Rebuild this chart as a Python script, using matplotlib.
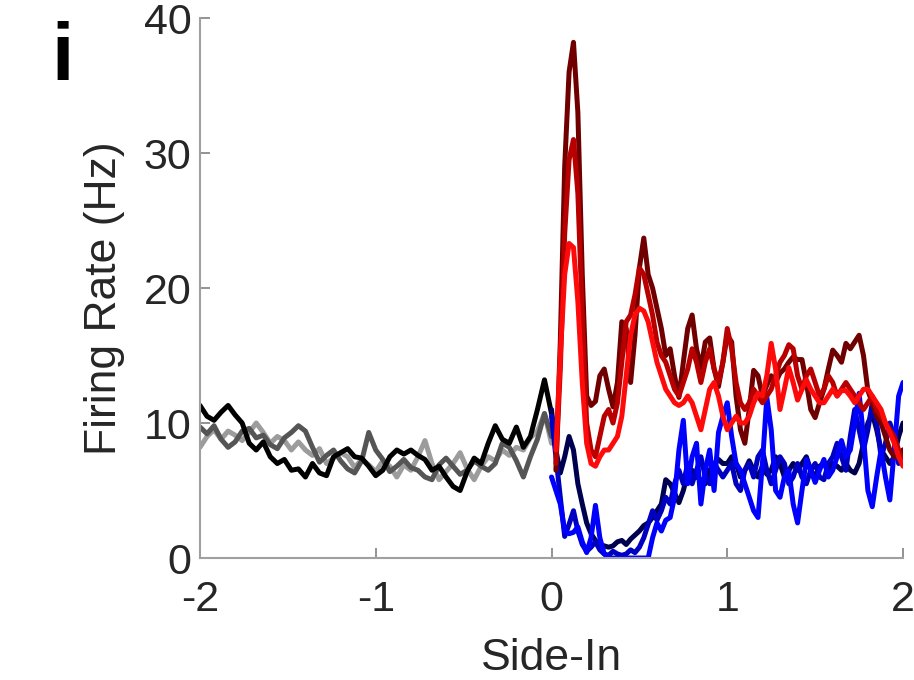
import numpy as np
import matplotlib
matplotlib.use("Agg")
import matplotlib.pyplot as plt

plt.rcParams['font.family'] = ['Liberation Sans', 'DejaVu Sans']

# time axes (s relative to Side-In)
t_pre = np.linspace(-2.0, 0.0, 51)
t_post = np.linspace(0.0, 2.0, 81)

# pre-event traces
pre_black = [11.3, 10.5, 10.2, 10.8, 11.3, 10.6, 10.0, 8.5, 8.0, 8.6,
             7.5, 7.0, 7.3, 6.5, 6.6, 6.0, 7.0, 6.3, 6.1, 7.5,
             7.8, 8.1, 7.5, 7.4, 6.8, 6.1, 6.5, 7.5, 8.0, 7.7,
             8.0, 7.6, 7.3, 6.5, 6.8, 6.0, 5.3, 5.0, 6.4, 7.4,
             7.0, 8.5, 9.8, 8.8, 8.5, 9.7, 8.2, 9.0, 11.0, 13.2, 10.7]
pre_dgray = [9.7, 9.2, 9.8, 8.8, 8.2, 8.6, 9.4, 9.6, 8.9, 9.1,
             8.4, 8.1, 8.9, 9.3, 9.8, 9.4, 8.2, 7.1, 7.6, 8.0,
             7.2, 6.6, 6.3, 7.2, 9.3, 8.0, 7.3, 6.4, 6.8, 7.3,
             6.7, 6.5, 6.0, 5.8, 6.9, 7.4, 6.8, 6.2, 6.5, 7.2,
             6.8, 6.5, 7.0, 8.5, 8.2, 7.2, 6.0, 7.5, 8.8, 10.7, 9.0]
pre_lgray = [8.2, 9.0, 9.5, 8.8, 9.4, 9.1, 8.7, 9.3, 10.0, 9.3,
             8.5, 9.0, 8.7, 8.0, 8.6, 8.0, 7.6, 8.1, 7.0, 7.4,
             7.8, 7.5, 6.7, 7.3, 6.9, 6.4, 7.2, 6.8, 6.0, 6.9,
             6.5, 7.5, 8.7, 7.0, 5.8, 6.4, 7.0, 7.8, 6.6, 5.8,
             6.8, 7.5, 7.2, 8.0, 7.6, 8.2, 8.0, 8.9, 9.4, 10.7, 8.5]

# post-event traces
post_maroon = [np.nan, 6.5, 16, 29, 36, 38.2, 33, 21, 12, 11.3,
               11.6, 13.5, 14.0, 12.5, 11.2, 13.0, 17.5, 17.0, 13.0, 16.5,
               21.5, 23.7, 21.0, 20.0, 18.5, 17.0, 15.0, 15.5, 13.5, 11.9,
               14.5, 17.0, 18.0, 15.5, 14.1, 16.0, 16.3, 14.0, 12.7, 14.5,
               16.5, 16.0, 12.0, 9.5, 8.5, 11.0, 13.9, 13.5, 12.0, 12.8,
               13.5, 13.0, 13.7, 14.0, 14.5, 14.9, 14.7, 14.7, 13.0, 11.0,
               10.4, 11.5, 12.5, 14.0, 15.4, 15.0, 14.5, 15.9, 15.5, 16.0,
               16.5, 15.0, 12.4, 11.5, 10.5, 10.0, 9.0, 8.0, 7.5, 7.5, 8.0]
post_dred = [np.nan, 7.0, 14, 24, 29.5, 31.0, 27, 18, 10, 8.0,
             7.5, 9.0, 10.5, 11.0, 10.0, 11.5, 14.5, 17.5, 18.0, 19.5,
             21.5, 21.0, 19.5, 18.0, 16.0, 15.0, 14.5, 13.5, 12.5, 12.0,
             13.0, 14.0, 15.5, 14.5, 13.0, 14.5, 15.5, 14.0, 13.0, 14.5,
             17.0, 15.5, 13.0, 11.5, 11.0, 11.5, 12.5, 12.0, 11.5, 12.0,
             12.5, 13.5, 14.5, 15.0, 15.8, 15.5, 13.5, 12.5, 13.5, 14.0,
             13.0, 12.0, 12.5, 13.5, 13.0, 12.0, 12.5, 13.0, 12.5, 12.0,
             11.5, 11.0, 11.5, 12.0, 11.0, 10.5, 10.0, 9.5, 9.0, 8.0, 7.0]
post_red = [np.nan, 8.0, 15, 21, 23.3, 23.0, 19, 13, 8.5, 7.0,
            6.8, 7.5, 8.0, 8.0, 8.5, 9.0, 10.5, 13.5, 16.5, 18.0,
            18.5, 18.3, 17.5, 16.0, 14.5, 13.5, 12.5, 12.0, 11.5, 11.3,
            11.5, 12.0, 11.5, 10.5, 9.5, 11.0, 12.5, 13.0, 12.0, 10.5,
            9.5, 10.0, 10.5, 10.0, 10.0, 10.5, 11.5, 12.2, 12.0, 13.5,
            15.9, 14.0, 11.0, 12.5, 14.1, 13.0, 11.7, 12.5, 13.2, 12.5,
            12.0, 11.5, 11.5, 12.0, 12.5, 12.0, 12.4, 12.4, 12.0, 11.5,
            12.0, 12.5, 12.5, 12.0, 11.5, 11.0, 10.0, 9.3, 8.5, 7.5, 6.8]
post_navy = [11.0, 8.0, 6.3, 7.5, 9.0, 8.0, 5.5, 4.0, 2.6, 1.8,
             1.3, 1.0, 0.9, 0.8, 0.9, 1.2, 1.3, 1.0, 1.4, 1.7,
             2.0, 2.4, 2.6, 3.0, 3.5, 4.0, 5.8, 5.5, 4.8, 4.1,
             5.0, 6.3, 6.5, 6.0, 5.8, 5.5, 6.5, 7.0, 7.3, 7.0,
             7.0, 7.5, 7.0, 6.0, 6.5, 7.2, 6.5, 6.0, 6.8, 6.2,
             6.5, 7.5, 7.0, 6.0, 6.5, 7.0, 6.5, 7.0, 7.5, 6.5,
             6.0, 6.8, 7.0, 6.5, 7.0, 6.8, 6.5, 7.0, 6.5, 6.3,
             7.0, 8.5, 10.0, 10.7, 9.5, 8.0, 7.5, 7.0, 7.5, 9.0, 10.0]
post_mblue = [10.5, 7.5, 4.5, 1.6, 2.5, 3.5, 2.0, 1.0, 0.5, 0.8,
              1.2, 0.6, 0.3, 0.2, 0.5, 0.3, 0.2, 0.3, 0.6, 0.4,
              0.8, 1.5, 2.5, 3.5, 2.8, 3.5, 4.5, 4.0, 5.5, 6.5,
              5.5, 7.0, 5.5, 6.5, 7.5, 6.0, 5.5, 7.0, 6.5, 6.0,
              6.5, 7.0, 5.5, 5.0, 6.5, 7.0, 6.0, 7.5, 8.0, 6.5,
              5.5, 6.5, 7.5, 7.0, 5.5, 6.0, 7.0, 6.0, 5.5, 6.5,
              7.0, 6.0, 5.8, 7.0, 7.5, 8.5, 7.5, 6.5, 9.0, 11.0,
              9.5, 8.0, 9.5, 11.5, 10.0, 7.5, 8.5, 10.0, 9.0, 7.0, 8.0]
post_blue = [6.0, 5.0, 4.0, 2.0, 1.8, 1.9, 2.3, 1.2, 0.4, 1.5,
             3.9, 1.5, 0.3, 0.0, 0.0, 0.0, 0.0, 0.0, 0.0, 0.0,
             0.0, 0.0, 0.0, 1.5, 2.6, 2.0, 2.8, 3.0, 4.5, 8.0,
             10.2, 5.5, 7.5, 8.5, 4.0, 6.5, 8.0, 5.0, 9.3, 10.5,
             11.5, 9.0, 7.0, 6.5, 5.5, 4.5, 3.5, 3.0, 7.0, 11.9,
             9.5, 5.0, 4.5, 6.0, 6.5, 4.0, 2.6, 5.0, 7.3, 6.5,
             5.6, 6.5, 7.3, 6.0, 6.5, 7.5, 8.7, 7.5, 8.0, 10.0,
             12.2, 9.0, 5.0, 3.8, 6.0, 8.0, 6.0, 4.3, 8.0, 12.0, 13.0]

xticks = [-2, -1, 0, 1, 2]
yticks = [0, 10, 20, 30, 40]

fig = plt.figure(figsize=(9.14, 6.80), dpi=100)
ax = fig.add_axes([0.2188, 0.1794, 0.7692, 0.7941])

lw = 3.6
style = dict(lw=lw, solid_joinstyle='round', solid_capstyle='round')
ax.plot(t_pre, pre_lgray, color='#9c9c9c', **style)
ax.plot(t_pre, pre_dgray, color='#555555', **style)
ax.plot(t_pre, pre_black, color='#000000', **style)

ax.plot(t_post, post_navy, color='#000050', **style)
ax.plot(t_post, post_mblue, color='#0000c0', **style)
ax.plot(t_post, post_blue, color='#0000ff', **style)
ax.plot(t_post, post_maroon, color='#700000', **style)
ax.plot(t_post, post_dred, color='#b80000', **style)
ax.plot(t_post, post_red, color='#ff0a0a', **style)

ax.set_xlim(-2, 2)
ax.set_ylim(0, 40)
ax.set_xticks(xticks)
ax.set_yticks(yticks)
ax.set_xticklabels([str(v) for v in xticks])
ax.set_yticklabels([str(v) for v in yticks])

for s in ['top', 'right']:
    ax.spines[s].set_visible(False)
for s in ['left', 'bottom']:
    ax.spines[s].set_color('#a0a0a0')
    ax.spines[s].set_linewidth(1.5)
ax.tick_params(direction='in', length=7, width=1.2, color='#808080',
               labelsize=31, labelcolor='#262626')
ax.tick_params(axis='x', pad=16)
ax.tick_params(axis='y', pad=6)

ax.set_xlabel('Side-In', fontsize=32, color='#262626')
ax.set_ylabel('Firing Rate (Hz)', fontsize=32, color='#262626')
ax.xaxis.set_label_coords(0.5, -0.148)
ax.yaxis.set_label_coords(-0.107, 0.482)

fig.text(0.068, 0.882, 'i', fontsize=58, fontweight='bold', color='black',
         ha='center', va='baseline')

fig.savefig('out.png', dpi=100)
